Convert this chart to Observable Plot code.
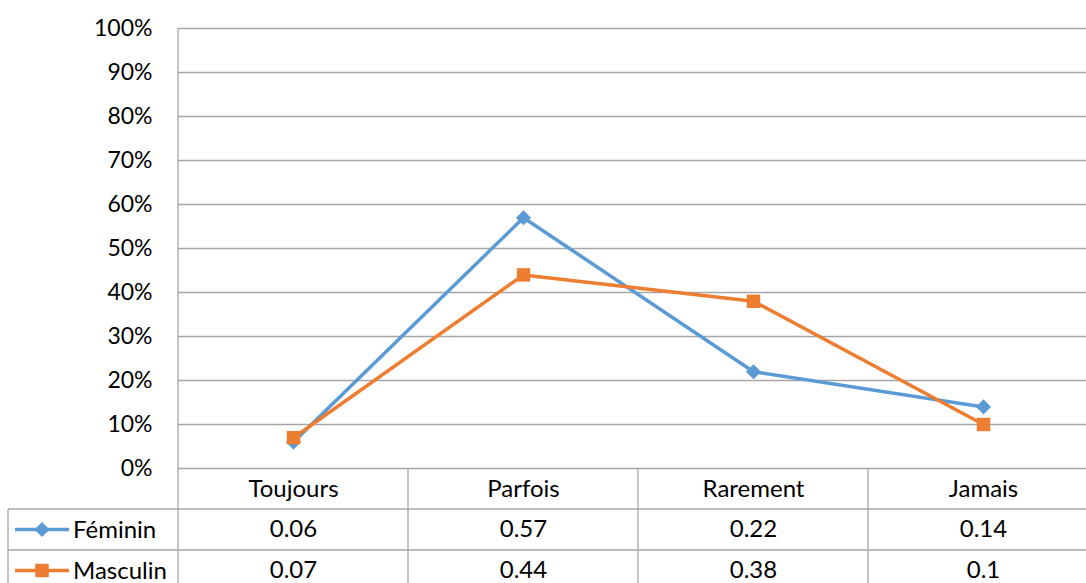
<!DOCTYPE html>
<html>
<head>
<meta charset="utf-8">
<script src="https://cdn.jsdelivr.net/npm/d3@7"></script>
<script src="https://cdn.jsdelivr.net/npm/@observablehq/plot@0.6"></script>
<style>
  html, body { margin: 0; padding: 0; background: #fff; }
  #chart svg { display: block; }
</style>
</head>
<body>
<div id="chart"></div>
<script>
const categories = ["Toujours", "Parfois", "Rarement", "Jamais"];
const feminin = [0.06, 0.57, 0.22, 0.14];
const masculin = [0.07, 0.44, 0.38, 0.1];
const yTicks = [0, 0.1, 0.2, 0.3, 0.4, 0.5, 0.6, 0.7, 0.8, 0.9, 1];
const seriesNames = ["Féminin", "Masculin"];

const BLUE = "#5B9BD5", ORANGE = "#ED7D31", GRID = "#A6A6A6";
const FONT = "Lato, 'Open Sans', sans-serif";

const rows = [
  ...categories.map((c, i) => ({cat: c, value: feminin[i], series: seriesNames[0]})),
  ...categories.map((c, i) => ({cat: c, value: masculin[i], series: seriesNames[1]}))
];
const fem = rows.filter(d => d.series === seriesNames[0]);
const mas = rows.filter(d => d.series === seriesNames[1]);

const W = 1086, H = 583, X0 = 178, X1 = 1098, YTOP = 28, Y0 = 468, ROW = 41;
const TFS = 24;

const diamond = d3.symbolDiamond2 || {
  draw(ctx, size) {
    const r = Math.sqrt(size) * 0.62625;
    ctx.moveTo(0, -r); ctx.lineTo(r, 0); ctx.lineTo(0, r); ctx.lineTo(-r, 0); ctx.closePath();
  }
};

const chart = Plot.plot({
  width: W,
  height: H,
  marginTop: YTOP,
  marginBottom: H - Y0,
  marginLeft: X0,
  marginRight: 0,
  style: {fontFamily: FONT, fontSize: "22px", color: "#000", background: "#fff"},
  x: {type: "point", domain: categories, range: [X0, X1], padding: 0.5, axis: null},
  y: {domain: [0, 1], axis: null},
  marks: [
    Plot.ruleY(yTicks, {stroke: GRID, strokeWidth: 1.3}),
    Plot.axisY({ticks: yTicks, tickFormat: d3.format(".0%"), tickSize: 0, tickPadding: 26, fontSize: 23, fill: "#000", label: null}),
    Plot.line(fem, {x: "cat", y: "value", stroke: BLUE, strokeWidth: 3.5}),
    Plot.line(mas, {x: "cat", y: "value", stroke: ORANGE, strokeWidth: 3.5}),
    Plot.dot(fem, {x: "cat", y: "value", symbol: diamond, r: 6.8, fill: BLUE, stroke: "none"}),
    Plot.dot(mas, {x: "cat", y: "value", symbol: "square", r: 7.6, fill: ORANGE, stroke: "none"}),
    // data table text
    Plot.text(categories, {x: d => d, y: () => 0, text: d => d, dy: 21, fontSize: TFS, fill: "#000", lineAnchor: "middle"}),
    Plot.text(fem, {x: "cat", y: () => 0, text: d => String(d.value), dy: 61, fontSize: TFS, fill: "#000", lineAnchor: "middle"}),
    Plot.text(mas, {x: "cat", y: () => 0, text: d => String(d.value), dy: 102, fontSize: TFS, fill: "#000", lineAnchor: "middle"})
  ]
});

document.getElementById("chart").appendChild(chart);

// table grid and legend keys
const svg = d3.select(chart);
const g = svg.append("g").attr("stroke", GRID).attr("stroke-width", 1.3).attr("fill", "none");
const step = (X1 - X0) / categories.length;
g.append("line").attr("x1", X0).attr("x2", X0).attr("y1", YTOP).attr("y2", H);
for (let i = 1; i < categories.length; i++) {
  const x = X0 + step * i;
  g.append("line").attr("x1", x).attr("x2", x).attr("y1", Y0).attr("y2", H);
}
g.append("line").attr("x1", 8).attr("x2", 8).attr("y1", Y0 + ROW).attr("y2", H);
[Y0 + ROW, Y0 + 2 * ROW].forEach(y => g.append("line").attr("x1", 8).attr("x2", W).attr("y1", y).attr("y2", y));

const leg = svg.append("g");
const keys = [
  {name: seriesNames[0], color: BLUE, y: Y0 + ROW * 1.5, sym: diamond, size: Math.PI * 6.8 * 6.8},
  {name: seriesNames[1], color: ORANGE, y: Y0 + ROW * 2.5, sym: d3.symbolSquare, size: Math.PI * 7.6 * 7.6}
];
keys.forEach(k => {
  leg.append("line").attr("x1", 15).attr("x2", 69).attr("y1", k.y).attr("y2", k.y)
    .attr("stroke", k.color).attr("stroke-width", 3.5);
  leg.append("path").attr("d", d3.symbol(k.sym, k.size)()).attr("transform", `translate(42,${k.y})`).attr("fill", k.color);
  leg.append("text").attr("x", 73).attr("y", k.y).attr("dy", "0.35em").attr("text-anchor", "start")
    .attr("font-family", FONT).attr("font-size", TFS).attr("fill", "#000").text(k.name);
});
</script>
</body>
</html>
